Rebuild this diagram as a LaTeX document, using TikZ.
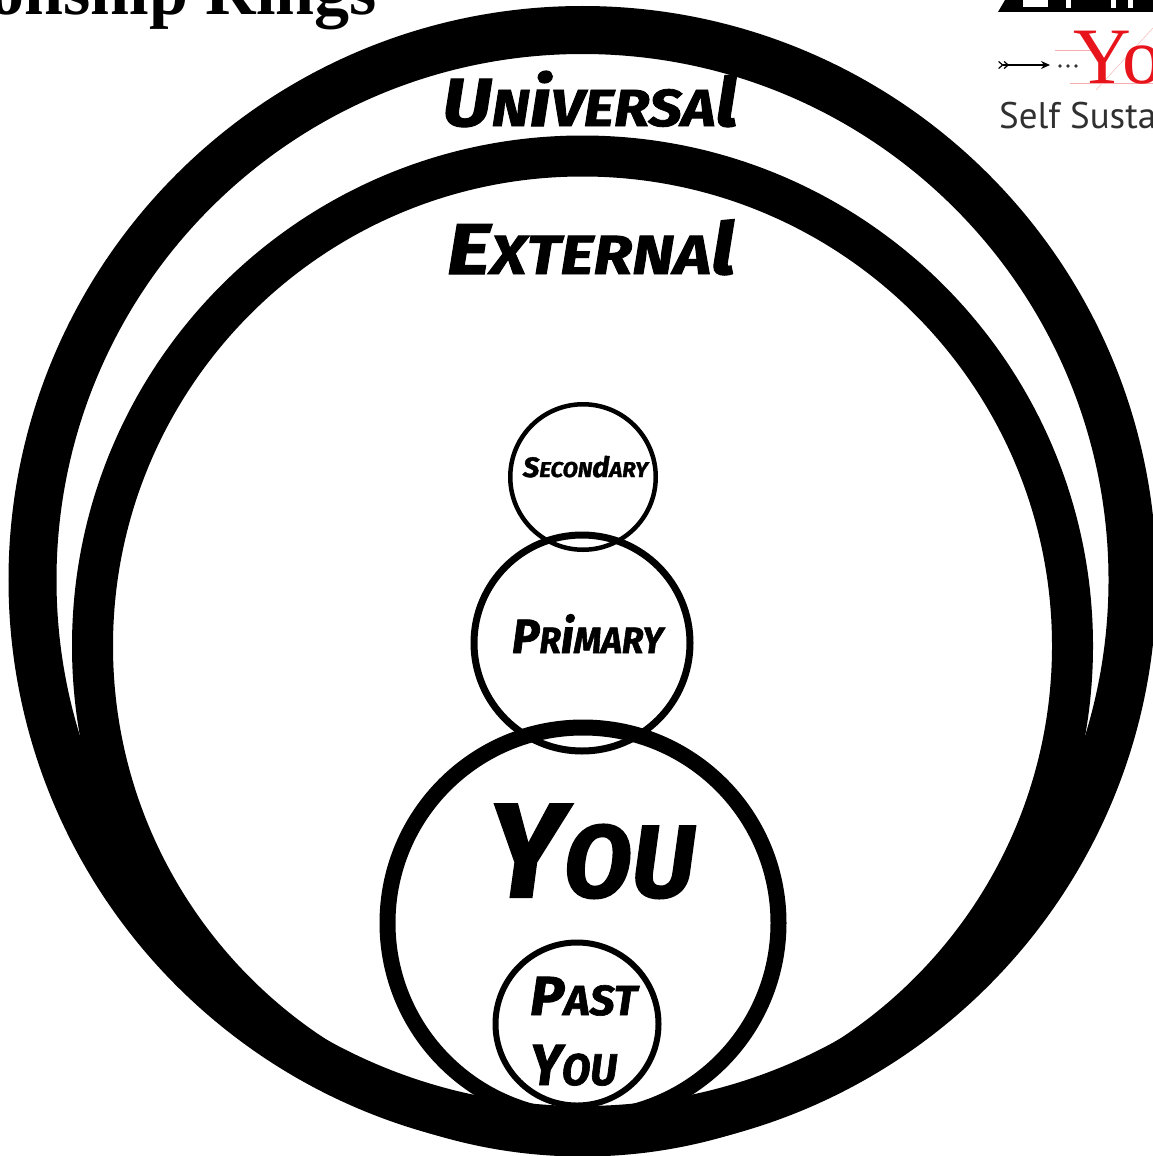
\documentclass[tikz,border=0pt]{standalone}
\usepackage{fontspec}
\usepackage{graphicx}
\usetikzlibrary{arrows.meta}
\setmainfont{Fira Sans}
\newfontfamily\labfont{Fira Sans}[FakeBold=1.5]
\newfontfamily\titlefont{Liberation Serif}
\newfontfamily\logofont{PT Sans}
\newcommand\lbl[2]{\labfont\bfseries\itshape\fontsize{#1}{#1}\selectfont\edef\smsz{\fpeval{0.765*#1}}#2}
\newcommand\sm[1]{{\fontsize{\smsz}{\smsz}\selectfont #1}}
\newcommand\fitw[2]{\resizebox{#1pt}{\height}{#2}}
\definecolor{logored}{HTML}{E8141B}
\definecolor{logogrey}{HTML}{303030}
\tikzset{
  ring/.style={draw=black, circle, inner sep=0pt, outer sep=0pt, fill=none},
  lab/.style={anchor=base, inner sep=0pt, text=black},
}
\begin{document}
\begin{tikzpicture}[x=1pt,y=-1pt]
\useasboundingbox (0,0) rectangle (1153,1156);
\fill[white] (0,0) rectangle (1153,1156);

% rings
\node[ring, line width=48pt, minimum size=1100pt] (universal) at (582.5,580) {};
\node[ring, line width=41pt, minimum size=980pt] (external) at (582.5,646) {};
\node[ring, line width=4.5pt, minimum size=145.5pt] (secondary) at (583,477) {};
\node[ring, line width=7pt, minimum size=216pt] (primary) at (582,643) {};
\node[ring, line width=16pt, minimum size=391pt] (you) at (583,923) {};
\node[ring, line width=6pt, minimum size=163pt] (pastyou) at (577,1024) {};

% labels
\node[lab] (tUniversal) at (590,126) {\fitw{295}{\lbl{68}{U\sm{N}i\sm{VERSA}l}}};
\node[lab] (tExternal) at (591,274) {\fitw{288}{\lbl{72}{E\sm{XTERNA}l}}};
\node[lab] (tSecondary) at (585.5,477) {\fitw{125}{\lbl{28}{S\sm{ECON}d\sm{ARY}}}};
\node[lab] (tPrimary) at (587.5,653) {\fitw{151}{\lbl{48}{P\sm{R}i\sm{MARY}}}};
\node[lab] (tYou) at (591.5,897) {\fitw{207}{\lbl{134}{Y\sm{OU}}}};
\node[lab] (tPast) at (583.5,1015) {\fitw{107}{\lbl{55}{P\sm{AST}}}};
\node[lab] (tPastYou) at (573.5,1085) {\fitw{87}{\lbl{58}{Y\sm{OU}}}};

% title (cropped)
\node[anchor=base east, inner sep=0pt] (title) at (377,15)
  {\titlefont\bfseries\fontsize{70}{70}\selectfont Relationship Rings};

% logo (cropped)
\fill[black] (998,12) -- (1005,0) -- (1153,0) -- (1153,12) -- cycle;
\fill[white] (1023,0) rectangle (1048,7);
\fill[white] (1066,0) rectangle (1071,8);
\fill[white] (1111,0) rectangle (1116,8);
\fill[white] (1128,0) rectangle (1133,8);
\coordinate (arrS) at (998,65);
\coordinate (arrE) at (1050,65);
\draw[line width=1.2pt, {Straight Barb[reversed,length=4pt,width=7pt]Straight Barb[reversed,length=4pt,width=7pt]}-{Stealth[length=9pt,width=8pt]}] (arrS) -- (arrE);
\foreach \i/\xx in {1/1060,2/1068,3/1076}{\fill[black!80] (\xx,66) circle[radius=1.9pt];}
\draw[logored!35, line width=0.6pt] (1055,50) -- (1100,50);
\draw[logored!35, line width=0.6pt] (1070,83) -- (1153,83);
\draw[logored!30, line width=0.5pt] (1096,90) -- (1153,28);
\node[anchor=base west, inner sep=0pt, text=logored] (logoYo) at (1073,83)
  {\titlefont\fontsize{80}{80}\selectfont Yo};
\node[anchor=base west, inner sep=0pt, text=logogrey] (logoSelf) at (999,128)
  {\logofont\fontsize{37}{37}\selectfont Self Sustaining};
\end{tikzpicture}
\end{document}
